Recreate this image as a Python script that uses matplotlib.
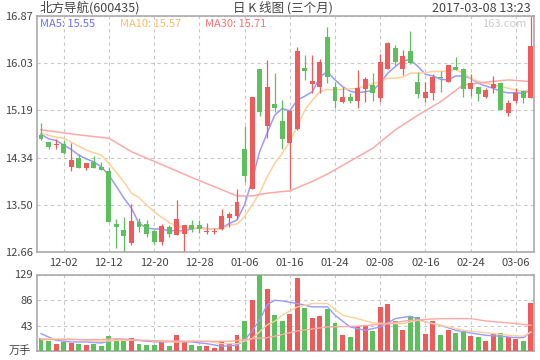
import matplotlib
matplotlib.use("Agg")
import matplotlib.pyplot as plt
import numpy as np

plt.rcParams['font.family'] = ['Noto Sans CJK SC', 'DejaVu Sans']

# 日K数据 (2016-11-29 ~ 2017-03-08)
opens = [14.75, 14.62, 14.56, 14.59, 14.18, 14.34, 14.15, 14.27, 14.18, 14.11,
         13.16, 13.05, 12.82, 13.19, 13.16, 13.04, 12.83, 13.10, 12.96, 12.99,
         13.14, 13.15, 13.01, 13.02, 13.07, 13.27, 13.31, 14.50, 13.79, 15.93,
         14.91, 15.30, 15.00, 14.61, 14.85, 15.94, 15.66, 15.60, 16.50, 15.61,
         15.34, 15.43, 15.36, 15.57, 15.64, 15.40, 15.93, 16.30, 15.93, 16.25,
         15.69, 15.40, 15.49, 15.78, 15.70, 15.96, 15.93, 15.57, 15.60, 15.43,
         15.59, 15.68, 15.14, 15.36, 15.53, 15.41]
closes = [14.68, 14.53, 14.59, 14.43, 14.30, 14.15, 14.25, 14.16, 14.13, 13.20,
          13.11, 12.95, 13.21, 13.11, 12.99, 12.84, 13.12, 12.98, 13.25, 13.14,
          13.07, 13.07, 13.04, 13.04, 13.30, 13.33, 13.55, 14.02, 15.43, 15.15,
          15.60, 15.23, 14.68, 15.18, 16.25, 15.88, 15.71, 16.05, 15.78, 15.36,
          15.43, 15.35, 15.59, 15.75, 15.50, 16.05, 16.39, 16.05, 16.16, 16.04,
          15.47, 15.51, 15.78, 15.76, 16.00, 15.91, 15.57, 15.68, 15.47, 15.55,
          15.66, 15.19, 15.32, 15.50, 15.40, 16.34]
highs = [14.96, 14.63, 14.68, 14.66, 14.60, 14.40, 14.25, 14.37, 14.27, 14.18,
         13.25, 13.28, 13.52, 13.26, 13.23, 13.05, 13.16, 13.14, 13.59, 13.14,
         13.23, 13.23, 13.17, 13.08, 13.43, 13.37, 13.78, 14.91, 15.43, 15.93,
         16.09, 15.85, 15.37, 15.18, 16.31, 16.17, 16.18, 16.10, 16.67, 15.70,
         15.60, 15.49, 15.91, 15.78, 15.85, 16.19, 16.41, 16.35, 16.26, 16.60,
         15.87, 15.70, 15.83, 15.89, 16.00, 16.14, 15.94, 15.84, 15.60, 15.59,
         15.80, 15.69, 15.37, 15.59, 15.55, 16.87]
lows = [14.66, 14.49, 14.49, 14.41, 14.11, 14.15, 14.13, 14.16, 14.12, 13.20,
        12.74, 12.66, 12.79, 13.02, 12.93, 12.80, 12.79, 12.93, 12.96, 12.68,
        13.01, 13.00, 12.98, 12.99, 13.05, 13.11, 13.25, 13.91, 13.79, 15.09,
        14.70, 15.16, 14.50, 13.79, 14.84, 15.73, 15.50, 15.50, 15.68, 15.22,
        15.31, 15.31, 15.23, 15.33, 15.36, 15.34, 15.92, 16.00, 15.81, 16.02,
        15.40, 15.34, 15.37, 15.52, 15.69, 15.90, 15.42, 15.44, 15.35, 15.40,
        15.50, 15.19, 15.09, 15.31, 15.31, 15.41]
volumes = [21.4, 16.3, 11.3, 14.6, 13.5, 11.8, 9.6, 11.3, 7.9, 24.8,
           16.3, 19.2, 21.4, 11.3, 9.6, 9.6, 16.3, 7.9, 26.5, 14.6,
           9.6, 7.9, 7.9, 4.5, 16.3, 13.0, 26.5, 50.1, 85.6, 129.0,
           104.2, 60.3, 50.1, 62.0, 122.8, 72.7, 55.2, 58.6, 70.4, 46.8,
           26.5, 23.1, 41.7, 41.7, 33.2, 73.8, 78.9, 50.1, 34.9, 58.6,
           56.9, 28.2, 50.1, 26.5, 34.9, 29.9, 33.2, 24.8, 23.1, 16.3,
           28.2, 29.9, 23.1, 19.7, 16.3, 80.6]

# 均线
ma5 = [14.76, 14.68, 14.65, 14.57, 14.49, 14.39, 14.32, 14.27, 14.18, 14.03,
       13.83, 13.62, 13.44, 13.17, 13.09, 13.07, 13.07, 13.04, 13.04, 13.04,
       13.07, 13.09, 13.08, 13.07, 13.09, 13.17, 13.23, 13.50, 13.94, 14.45,
       14.78, 15.10, 15.22, 15.18, 15.37, 15.44, 15.52, 15.78, 15.88, 15.73,
       15.61, 15.53, 15.50, 15.52, 15.54, 15.67, 15.85, 15.97, 16.07, 16.09,
       15.97, 15.83, 15.80, 15.74, 15.73, 15.80, 15.80, 15.76, 15.67, 15.62,
       15.58, 15.52, 15.50, 15.50, 15.49, 15.55]
ma10 = [14.78, 14.74, 14.71, 14.69, 14.62, 14.55, 14.48, 14.43, 14.39, 14.24,
        14.08, 13.91, 13.71, 13.63, 13.50, 13.38, 13.28, 13.19, 13.11, 13.10,
        13.09, 13.08, 13.07, 13.07, 13.07, 13.14, 13.16, 13.29, 13.50, 13.71,
        14.00, 14.24, 14.42, 14.63, 14.90, 15.19, 15.37, 15.52, 15.56, 15.55,
        15.56, 15.57, 15.58, 15.62, 15.66, 15.70, 15.76, 15.76, 15.78, 15.85,
        15.85, 15.86, 15.88, 15.88, 15.89, 15.92, 15.85, 15.76, 15.70, 15.67,
        15.64, 15.62, 15.58, 15.55, 15.52, 15.57]
ma30_idx = [0, 5, 9, 12, 16, 20, 24, 26, 28, 30, 33, 36, 38, 41, 44, 47, 50, 53, 56, 59, 62, 65]
ma30 = [14.84, 14.75, 14.69, 14.45, 14.22, 13.99, 13.77, 13.66, 13.66, 13.71, 13.75,
        13.92, 14.05, 14.28, 14.51, 14.84, 15.10, 15.34, 15.64, 15.69, 15.73, 15.70]

vma5_idx = [0, 2, 4, 6, 8, 10, 12, 14, 16, 18, 20, 22, 24, 26, 27, 28, 29, 30, 31, 32,
            34, 36, 38, 39, 41, 43, 45, 47, 49, 51, 53, 55, 57, 59, 61, 63, 64, 65]
vma5 = [29.3, 18.0, 15.2, 15.2, 13.5, 19.2, 19.7, 16.3, 15.2, 16.3, 15.2, 12.4, 7.9, 9.6,
        18.0, 33.8, 51.8, 78.0, 85.6, 84.5, 80.0, 74.4, 74.4, 60.3, 40.6, 34.9, 40.6,
        54.6, 58.6, 49.0, 43.4, 34.9, 30.4, 26.5, 24.8, 22.5, 22.5, 32.1]
vma10_idx = [0, 2, 4, 6, 8, 10, 12, 14, 16, 18, 20, 22, 24, 26, 28, 30, 31, 32, 34, 36,
             38, 40, 42, 44, 46, 48, 50, 52, 54, 56, 58, 60, 62, 64, 65]
vma10 = [20.8, 20.3, 20.3, 18.0, 16.3, 18.0, 18.0, 18.0, 16.3, 15.2, 16.3, 16.3, 12.4,
         12.4, 20.8, 44.0, 50.0, 60.3, 74.4, 80.0, 80.0, 60.3, 54.6, 47.3, 46.2, 46.2,
         51.8, 46.2, 40.6, 34.9, 32.1, 29.3, 26.5, 24.8, 32.1]
vma30_idx = [0, 8, 10, 13, 16, 21, 25, 28, 30, 31, 34, 38, 42, 46, 49, 53, 57, 59, 63, 65]
vma30 = [19.2, 19.2, 20.8, 18.0, 16.9, 16.3, 16.3, 20.8, 22.5, 24.8, 33.8, 40.6, 41.7,
         46.2, 51.8, 54.6, 54.6, 50.7, 46.2, 43.4]

tick_pos = [3, 9, 15, 21, 27, 33, 39, 45, 51, 57, 63]
tick_labels = ['12-02', '12-12', '12-20', '12-28', '01-06', '01-16',
               '01-24', '02-08', '02-16', '02-24', '03-06']
price_ticks = [12.66, 13.50, 14.34, 15.19, 16.03, 16.87]
vol_ticks = [43, 86, 129]

up_color = '#ef5b5b'
down_color = '#5cc05c'
c5, c10, c30 = '#9a9aff', '#ffd09a', '#ffa8a8'
frame_color = '#aaaaaa'
grid_color = '#c8c8c8'
text_color = '#444444'

fig = plt.figure(figsize=(5.4, 3.6), dpi=100)
ax = fig.add_axes([37 / 540, 1 - 252 / 360, 497 / 540, 236 / 360])
axv = fig.add_axes([37 / 540, 1 - 351 / 360, 497 / 540, 76.5 / 360])

x = np.arange(len(opens))
colors = [up_color if c >= o else down_color for o, c in zip(opens, closes)]

# 价格K线
ax.vlines(x, lows, highs, colors=colors, linewidth=0.9, zorder=3)
body_bottom = np.minimum(opens, closes)
body_height = np.maximum(np.abs(np.array(closes) - np.array(opens)), 0.02)
ax.bar(x, body_height, 0.66, bottom=body_bottom, color=colors, linewidth=0, zorder=4)

ax.plot(x, ma5, color=c5, linewidth=1.1, zorder=2)
ax.plot(x, ma10, color=c10, linewidth=1.1, zorder=2)
ax.plot(ma30_idx, ma30, color=c30, linewidth=1.1, zorder=2)

ax.set_xlim(-0.53, 65.4)
ax.set_ylim(12.66, 16.87)
ax.set_yticks(price_ticks)
ax.set_yticklabels(['%.2f' % v for v in price_ticks])
ax.set_xticks(tick_pos)
ax.set_xticklabels(tick_labels)

# 成交量
axv.bar(x, volumes, 0.66, color=colors, linewidth=0, zorder=3)
axv.plot(vma5_idx, vma5, color=c5, linewidth=1.0, zorder=4)
axv.plot(vma10_idx, vma10, color=c10, linewidth=1.0, zorder=4)
axv.plot(vma30_idx, vma30, color=c30, linewidth=1.0, zorder=4)
axv.set_xlim(-0.53, 65.4)
axv.set_ylim(0, 129)
axv.set_yticks(vol_ticks)
axv.set_xticks(tick_pos)
axv.set_xticklabels([])

for a in (ax, axv):
    a.grid(True, linestyle=(0, (3, 3)), color=grid_color, linewidth=0.8, zorder=0)
    a.set_axisbelow(True)
    for s in a.spines.values():
        s.set_color(frame_color)
        s.set_linewidth(1.2)
    a.tick_params(length=0, labelsize=8, colors=text_color, pad=3)
ax.tick_params(axis='x', pad=4)

axv.text(-0.012, 0.0, '万手', transform=axv.transAxes, ha='right', va='center',
         fontsize=8, color=text_color)

# 标题
fig.text(40 / 540, 1 - 8 / 360, '北方导航(600435)', ha='left', va='center',
         fontsize=9, color=text_color)
fig.text(283 / 540, 1 - 8 / 360, '日 K 线图 (三个月)', ha='center', va='center',
         fontsize=9, color=text_color)
fig.text(531 / 540, 1 - 8 / 360, '2017-03-08 13:23', ha='right', va='center',
         fontsize=9, color=text_color)

ax.text(0.006, 0.967, 'MA5: 15.55', transform=ax.transAxes, ha='left', va='center',
        fontsize=8, color='#6e6eff')
ax.text(0.167, 0.967, 'MA10: 15.57', transform=ax.transAxes, ha='left', va='center',
        fontsize=8, color='#ffbb66')
ax.text(0.338, 0.967, 'MA30: 15.71', transform=ax.transAxes, ha='left', va='center',
        fontsize=8, color='#ff7070')
ax.text(0.985, 0.967, '163.com', transform=ax.transAxes, ha='right', va='center',
        fontsize=8, color='#cccccc')

fig.savefig('out.png', dpi=100)
